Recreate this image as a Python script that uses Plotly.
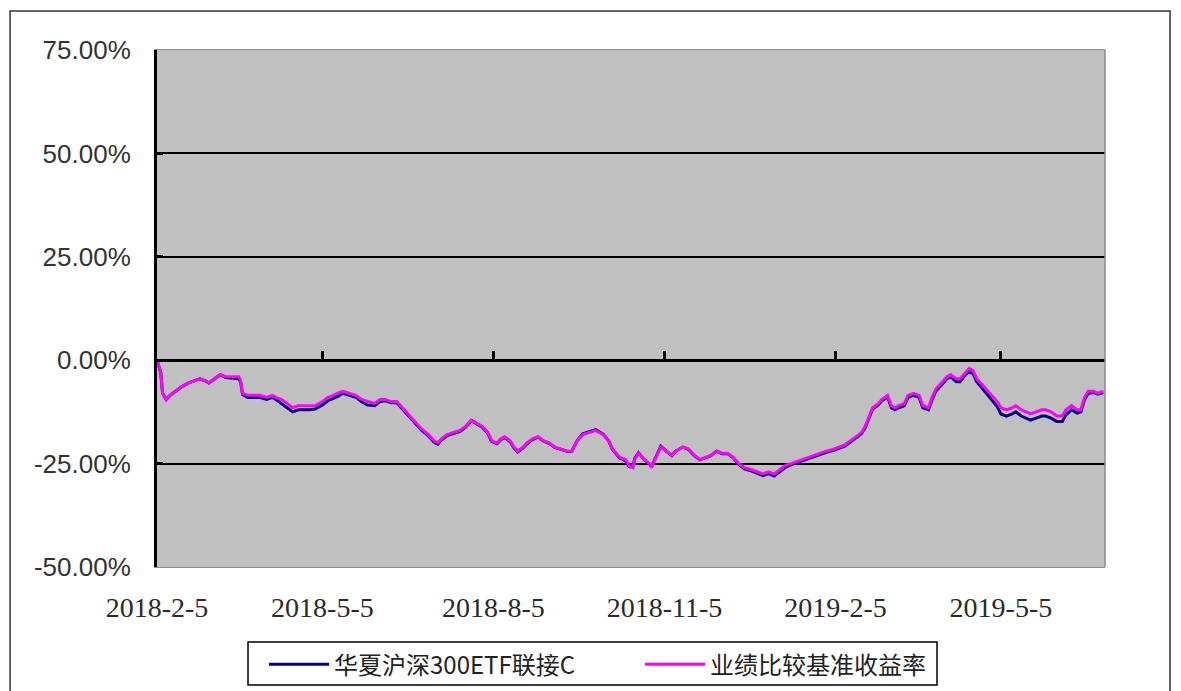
import plotly.graph_objects as go

dates = [
    "2018-02-05", "2018-02-07", "2018-02-08", "2018-02-10", "2018-02-12", "2018-02-15", "2018-02-18", "2018-02-22",
    "2018-02-25", "2018-02-28", "2018-03-03", "2018-03-05", "2018-03-08", "2018-03-11", "2018-03-14", "2018-03-17",
    "2018-03-21", "2018-03-22", "2018-03-23", "2018-03-26", "2018-03-29", "2018-04-01", "2018-04-05", "2018-04-08",
    "2018-04-10", "2018-04-13", "2018-04-16", "2018-04-19", "2018-04-22", "2018-04-25", "2018-04-28", "2018-05-01",
    "2018-05-05", "2018-05-08", "2018-05-11", "2018-05-13", "2018-05-16", "2018-05-20", "2018-05-23", "2018-05-26",
    "2018-05-29", "2018-06-02", "2018-06-05", "2018-06-08", "2018-06-11", "2018-06-14", "2018-06-18", "2018-06-21",
    "2018-06-24", "2018-06-27", "2018-07-01", "2018-07-04", "2018-07-06", "2018-07-08", "2018-07-11", "2018-07-15",
    "2018-07-18", "2018-07-21", "2018-07-24", "2018-07-26", "2018-07-30", "2018-08-02", "2018-08-04", "2018-08-07",
    "2018-08-09", "2018-08-11", "2018-08-14", "2018-08-16", "2018-08-18", "2018-08-21", "2018-08-23", "2018-08-26",
    "2018-08-29", "2018-09-01", "2018-09-04", "2018-09-07", "2018-09-11", "2018-09-14", "2018-09-16", "2018-09-19",
    "2018-09-22", "2018-09-26", "2018-09-29", "2018-10-03", "2018-10-06", "2018-10-08", "2018-10-12", "2018-10-15",
    "2018-10-17", "2018-10-19", "2018-10-20", "2018-10-22", "2018-10-25", "2018-10-28", "2018-10-29", "2018-11-01",
    "2018-11-03", "2018-11-06", "2018-11-09", "2018-11-11", "2018-11-15", "2018-11-18", "2018-11-21", "2018-11-24",
    "2018-11-27", "2018-11-30", "2018-12-03", "2018-12-06", "2018-12-09", "2018-12-12", "2018-12-15", "2018-12-18",
    "2018-12-22", "2018-12-25", "2018-12-28", "2018-12-31", "2019-01-03", "2019-01-06", "2019-01-09", "2019-01-12",
    "2019-01-15", "2019-01-18", "2019-01-22", "2019-01-25", "2019-01-28", "2019-01-31", "2019-02-04", "2019-02-07",
    "2019-02-10", "2019-02-13", "2019-02-16", "2019-02-19", "2019-02-21", "2019-02-23", "2019-02-25", "2019-02-28",
    "2019-03-02", "2019-03-05", "2019-03-07", "2019-03-09", "2019-03-11", "2019-03-14", "2019-03-16", "2019-03-19",
    "2019-03-22", "2019-03-24", "2019-03-27", "2019-03-29", "2019-03-31", "2019-04-03", "2019-04-06", "2019-04-08",
    "2019-04-11", "2019-04-13", "2019-04-16", "2019-04-18", "2019-04-20", "2019-04-22", "2019-04-25", "2019-04-27",
    "2019-04-30", "2019-05-03", "2019-05-05", "2019-05-08", "2019-05-11", "2019-05-13", "2019-05-16", "2019-05-19",
    "2019-05-21", "2019-05-24", "2019-05-27", "2019-05-29", "2019-06-01", "2019-06-04", "2019-06-07", "2019-06-09",
    "2019-06-12", "2019-06-15", "2019-06-17", "2019-06-19", "2019-06-21", "2019-06-24", "2019-06-26", "2019-06-29",
]

benchmark = [
    0.0, -3.0, -8.0, -9.5, -8.5, -7.5, -6.5, -5.5, -5.0, -4.5, -5.0, -5.5, -4.5, -3.5, -4.0, -4.0,
    -4.0, -5.0, -8.0, -8.5, -8.5, -8.5, -9.0, -8.5, -9.0, -9.5, -10.5, -11.5, -11.0, -11.0, -11.0, -11.0,
    -10.0, -9.0, -8.5, -8.0, -7.5, -8.0, -8.5, -9.5, -10.0, -10.5, -9.5, -9.5, -10.0, -10.0, -12.0, -13.5,
    -15.0, -16.5, -18.0, -19.5, -20.0, -19.0, -18.0, -17.5, -17.0, -16.0, -14.5, -15.0, -16.0, -17.5, -19.5, -20.0,
    -19.0, -18.5, -19.5, -21.0, -22.0, -21.0, -20.0, -19.0, -18.5, -19.5, -20.0, -21.0, -21.5, -22.0, -22.0, -19.5,
    -18.0, -17.5, -17.0, -18.0, -19.5, -21.5, -23.5, -24.0, -25.5, -26.0, -24.0, -22.5, -24.0, -25.0, -26.0, -23.0,
    -21.0, -22.0, -23.0, -22.0, -21.0, -21.5, -23.0, -24.0, -23.5, -23.0, -22.0, -22.5, -22.5, -23.5, -25.0, -26.0,
    -26.5, -27.0, -27.5, -27.0, -27.5, -26.5, -25.5, -25.0, -24.5, -24.0, -23.5, -23.0, -22.5, -22.0, -21.5, -21.0,
    -20.5, -19.5, -18.5, -17.5, -16.0, -13.5, -11.5, -10.5, -9.5, -8.5, -11.0, -11.5, -11.0, -10.5, -8.5, -8.0,
    -8.5, -11.0, -11.5, -9.0, -7.0, -5.5, -4.0, -3.5, -4.5, -4.5, -3.0, -2.0, -2.5, -4.5, -6.0, -7.0,
    -8.5, -10.0, -11.5, -12.0, -11.5, -11.0, -12.0, -12.5, -13.0, -12.5, -12.0, -12.0, -12.5, -13.5, -13.5, -12.0,
    -11.0, -12.0, -12.0, -9.0, -7.5, -7.5, -8.0, -7.5,
]

fund = [
    0.0, -3.0, -8.0, -9.5, -8.5, -7.5, -6.5, -5.5, -5.0, -4.5, -5.0, -5.5, -4.5, -3.5, -4.2, -4.3,
    -4.5, -5.3, -8.3, -9.0, -9.0, -9.0, -9.5, -9.0, -9.5, -10.5, -11.5, -12.5, -12.0, -12.0, -12.0, -11.8,
    -10.8, -9.8, -9.2, -8.8, -8.0, -8.5, -9.0, -10.0, -10.8, -11.0, -10.0, -9.8, -10.3, -10.3, -12.3, -13.8,
    -15.3, -16.8, -18.3, -19.8, -20.3, -19.3, -18.2, -17.7, -17.2, -16.2, -14.6, -15.1, -16.2, -17.7, -19.7, -20.2,
    -19.2, -18.7, -19.7, -21.2, -22.2, -21.2, -20.2, -19.2, -18.6, -19.6, -20.1, -21.1, -21.6, -22.1, -22.1, -19.5,
    -17.8, -17.3, -16.8, -17.9, -19.5, -21.6, -23.7, -24.3, -25.7, -25.8, -23.8, -22.4, -24.0, -25.1, -25.8, -22.8,
    -20.8, -22.0, -23.1, -22.0, -21.0, -21.6, -23.1, -24.1, -23.6, -23.1, -22.0, -22.6, -22.6, -23.6, -25.2, -26.3,
    -26.8, -27.4, -27.9, -27.4, -28.0, -27.0, -25.9, -25.3, -24.8, -24.3, -23.8, -23.3, -22.8, -22.3, -21.8, -21.3,
    -20.8, -19.8, -18.8, -17.8, -16.3, -13.8, -11.8, -10.8, -9.8, -8.8, -11.5, -12.0, -11.5, -11.0, -9.0, -8.5,
    -9.0, -11.5, -12.0, -9.5, -7.5, -6.0, -4.5, -4.0, -5.2, -5.2, -3.5, -2.8, -3.2, -5.2, -6.8, -7.8,
    -9.5, -11.2, -13.0, -13.5, -13.0, -12.5, -13.5, -14.0, -14.5, -14.0, -13.5, -13.5, -14.0, -14.8, -14.8, -13.2,
    -12.0, -12.8, -12.5, -9.5, -8.0, -7.8, -8.2, -7.8,
]

y_ticks = [75, 50, 25, 0, -25, -50]
y_tick_labels = ["75.00%", "50.00%", "25.00%", "0.00%", "-25.00%", "-50.00%"]
x_ticks = ["2018-02-05", "2018-05-05", "2018-08-05", "2018-11-05", "2019-02-05", "2019-05-05"]
x_tick_labels = ["2018-2-5", "2018-5-5", "2018-8-5", "2018-11-5", "2019-2-5", "2019-5-5"]
series_names = ["华夏沪深300ETF联接C", "业绩比较基准收益率"]

x_range = ["2018-02-05", "2019-06-30"]

fig = go.Figure()
fig.add_trace(go.Scatter(
    x=dates, y=fund, mode="lines", name=series_names[0],
    line=dict(color="#000080", width=3),
))
fig.add_trace(go.Scatter(
    x=dates, y=benchmark, mode="lines", name=series_names[1],
    line=dict(color="#FF00FF", width=3), xaxis="x2",
))

# page body has an 8px margin, so the figure is sized/positioned to compensate
fig.update_layout(
    width=1173, height=683,
    margin=dict(l=149, r=76, t=42, b=124, autoexpand=False),
    paper_bgcolor="white",
    plot_bgcolor="#C0C0C0",
    showlegend=True,
    xaxis=dict(
        type="date", range=x_range,
        tickvals=x_ticks, ticktext=x_tick_labels,
        ticks="", showgrid=False, zeroline=False,
        showline=True, linecolor="#8a8a8a", linewidth=1, mirror=True,
        tickfont=dict(family="Liberation Serif", size=28, color="#2a2a2a"),
        ticklabelstandoff=15,
    ),
    xaxis2=dict(
        type="date", range=x_range, matches="x", overlaying="x",
        anchor="free", position=0.4,
        tickvals=x_ticks, showticklabels=False,
        ticks="inside", ticklen=8, tickwidth=2.5, tickcolor="black",
        showline=True, linecolor="black", linewidth=3,
        showgrid=False, zeroline=False,
    ),
    yaxis=dict(
        range=[-50, 75], tickvals=y_ticks, ticktext=y_tick_labels,
        ticks="inside", ticklen=6, tickwidth=2.5, tickcolor="black",
        showline=True, linecolor="black", linewidth=3,
        showgrid=True, gridcolor="black", gridwidth=1.5,
        zeroline=False,
        tickfont=dict(family="Liberation Sans", size=26, color="#333333"),
        ticklabelstandoff=18,
    ),
    legend=dict(
        orientation="h", x=0.1129, xanchor="left",
        yref="container", y=0.0717, yanchor="top",
        bgcolor="rgba(0,0,0,0)", borderwidth=0,
        font=dict(family="Noto Sans CJK SC", size=24, color="#222222"),
        entrywidth=301, itemwidth=60,
    ),
    shapes=[
        dict(type="line", xref="paper", yref="paper", x0=1, x1=1, y0=0, y1=1,
             line=dict(color="#8a8a8a", width=1.5), layer="above"),
        dict(type="rect", xref="paper", yref="paper",
             x0=-0.155, x1=1.0686, y0=-0.245, y1=1.0754,
             line=dict(color="#333333", width=1.5), layer="below"),
        dict(type="rect", xref="paper", yref="paper",
             x0=0.096, x1=0.8228, y0=-0.2282, y1=-0.1451,
             line=dict(color="black", width=1.5), fillcolor="white", layer="below"),
    ],
)

fig.write_html("out.html")
